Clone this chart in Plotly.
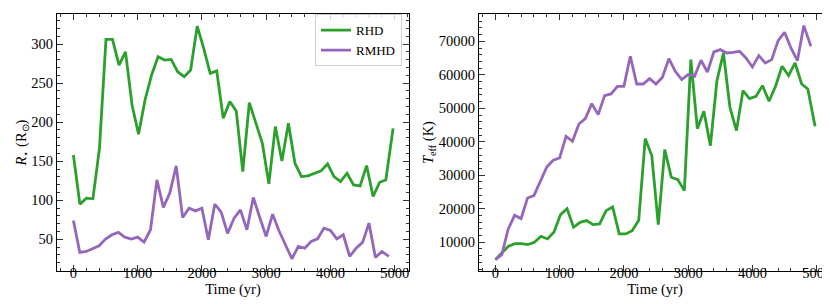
import plotly.graph_objects as go
from plotly.subplots import make_subplots

# Time grids (yr)
t_rhd = [0, 101, 203, 304, 406, 507, 608, 710, 811, 913, 1014, 1115, 1217, 1318, 1420,
         1521, 1622, 1724, 1825, 1927, 2028, 2129, 2231, 2332, 2434, 2535, 2636, 2738,
         2839, 2941, 3042, 3143, 3245, 3346, 3448, 3549, 3650, 3752, 3853, 3955, 4056,
         4157, 4259, 4360, 4462, 4563, 4664, 4766, 4862, 4975]
t_rmhd = [0, 100, 200, 300, 400, 500, 600, 700, 800, 900, 1000, 1100, 1200, 1300, 1400,
          1500, 1600, 1700, 1800, 1900, 2000, 2100, 2200, 2300, 2400, 2500, 2600, 2700,
          2800, 2900, 3000, 3100, 3200, 3300, 3400, 3500, 3600, 3700, 3800, 3900, 4000,
          4100, 4200, 4300, 4400, 4500, 4600, 4700, 4800, 4910]

# Stellar radius (R_sun)
r_rhd = [158, 95, 102.6, 101.8, 166.6, 306, 306, 273, 290, 222, 184.5, 228.4, 260.4,
         283.8, 279.5, 280.4, 264.6, 258.2, 266.8, 323, 294.5, 262.5, 265.5, 205, 226.3,
         214.3, 136.7, 225, 199, 173, 121, 194.3, 150.4, 198.6, 147.4, 130.3, 131.2,
         134.6, 137.6, 146.5, 130.3, 124, 134.6, 119.7, 118.4, 144.4, 104.8, 123, 126, 192]
r_rmhd = [74.1, 33.2, 34.4, 37.8, 41.7, 50.2, 55.8, 58.8, 52.8, 50.2, 52.8, 46.4, 62.2,
          126.1, 90.8, 109.1, 144.0, 77.9, 89.9, 86.4, 89.9, 49.4, 95, 84.7, 57.5, 77.1,
          87.7, 62.1, 103.5, 77.9, 53.6, 82.2, 60.9, 43, 25.1, 40.8, 38.7, 47.2, 50.6,
          64.3, 61.3, 50.6, 55.8, 28.0, 38.7, 46, 70.7, 26.8, 34.4, 28]

# Effective temperature (K)
teff_rhd = [4830, 6820, 8810, 9600, 9600, 9300, 10000, 11790, 11000, 13090, 18260, 20050,
            14480, 15970, 16470, 15270, 15470, 19450, 20550, 12490, 12490, 13480, 16570,
            40950, 35900, 15270, 37660, 29400, 28710, 25420, 64530, 43930, 49100, 38860,
            58260, 66520, 50300, 43330, 55270, 52890, 53580, 56770, 52090, 56570, 62540,
            59750, 63530, 57260, 55770, 44630]
teff_rmhd = [4830, 6320, 13980, 18060, 17060, 23230, 23930, 28010, 32490, 34480, 35170,
             41640, 40150, 45320, 46920, 51390, 48110, 53780, 54280, 56570, 56570, 65520,
             57260, 57260, 58860, 57260, 59250, 64830, 61040, 58560, 60050, 59550, 64330,
             60850, 66820, 67510, 66520, 66720, 67010, 65020, 62340, 65720, 63530, 64530,
             70200, 72690, 68010, 64230, 74680, 68510]

GREEN = "#2ca02c"
PURPLE = "#9467bd"
FONT = "Liberation Serif"

fig = make_subplots(rows=1, cols=2, horizontal_spacing=0.0904)

fig.add_trace(go.Scatter(x=t_rhd, y=r_rhd, mode="lines", name="RHD",
                         line=dict(color=GREEN, width=2.8)), row=1, col=1)
fig.add_trace(go.Scatter(x=t_rmhd, y=r_rmhd, mode="lines", name="RMHD",
                         line=dict(color=PURPLE, width=2.8)), row=1, col=1)
fig.add_trace(go.Scatter(x=t_rhd, y=teff_rhd, mode="lines", name="RHD", showlegend=False,
                         line=dict(color=GREEN, width=2.8)), row=1, col=2)
fig.add_trace(go.Scatter(x=t_rmhd, y=teff_rmhd, mode="lines", name="RMHD", showlegend=False,
                         line=dict(color=PURPLE, width=2.8)), row=1, col=2)

axis_common = dict(showline=True, linecolor="black", linewidth=1, mirror="allticks",
                   ticks="inside", ticklen=6, tickwidth=1, tickcolor="#333",
                   showgrid=False, zeroline=False,
                   tickfont=dict(family=FONT, size=14.5, color="black"))

xa = dict(axis_common, range=[-255, 5223], dtick=1000, tick0=0, tickformat="d",
          ticklabelstandoff=-11,
          minor=dict(ticks="inside", ticklen=3, dtick=200, tickcolor="#333", showgrid=False),
          title=dict(text="Time (yr)", font=dict(family=FONT, size=14.5, color="black"),
                     standoff=0))
fig.update_xaxes(xa, row=1, col=1)
fig.update_xaxes(xa, row=1, col=2)

fig.update_yaxes(axis_common, range=[9.4, 338.5], dtick=50, tick0=0, tickformat="d",
                 minor=dict(ticks="inside", ticklen=3, dtick=10, tickcolor="#333", showgrid=False),
                 title=dict(text="<i>R</i><sub>⋆</sub> (R<sub>⊙</sub>)",
                            font=dict(family=FONT, size=14.5, color="black"), standoff=1),
                 row=1, col=1)
fig.update_yaxes(axis_common, range=[1430, 78150], dtick=10000, tick0=0, tickformat="d",
                 minor=dict(ticks="inside", ticklen=3, dtick=2000, tickcolor="#333", showgrid=False),
                 title=dict(text="<i>T</i><sub>eff</sub> (K)",
                            font=dict(family=FONT, size=14.5, color="black"), standoff=1),
                 row=1, col=2)

fig.update_layout(
    width=830, height=304,
    margin=dict(l=49, r=7, t=6, b=41),
    plot_bgcolor="white", paper_bgcolor="white",
    font=dict(family=FONT, size=14, color="black"),
    legend=dict(x=0.4457, y=0.999, xanchor="right", yanchor="top",
                bgcolor="rgba(255,255,255,0.8)", bordercolor="#d0d0d0", borderwidth=1,
                font=dict(family=FONT, size=13, color="black"),
                itemwidth=30, tracegroupgap=0),
)

fig.write_html("out.html")
